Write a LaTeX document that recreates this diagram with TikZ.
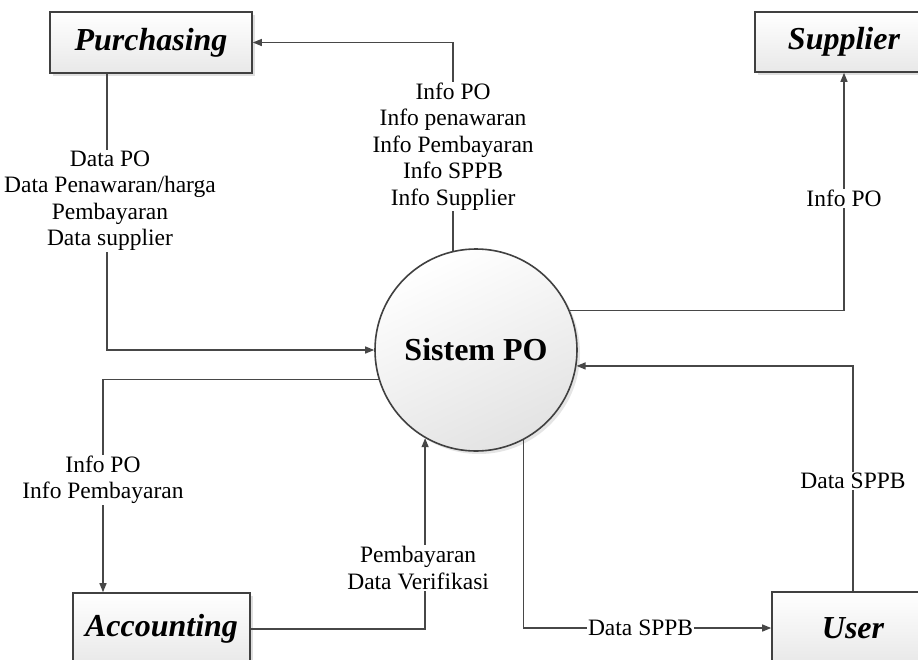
\documentclass[tikz,border=0pt]{standalone}
\usepackage{fontspec}
\setmainfont{Liberation Serif}
\usetikzlibrary{arrows.meta,shadows}
\definecolor{edge}{HTML}{404040}
\definecolor{flowc}{HTML}{474747}
\begin{document}
\begin{tikzpicture}[x=1pt,y=-1pt,
  entity/.style={draw=edge,line width=1.6pt,rectangle,top color=white,bottom color=gray!18,
    font=\fontsize{32}{36}\selectfont\bfseries\itshape,
    drop shadow={opacity=0.25,shadow xshift=3pt,shadow yshift=-3pt}},
  proc/.style={draw=edge,line width=1.6pt,circle,minimum size=202pt,inner sep=0pt,
    shading=axis,top color=white,bottom color=gray!22,shading angle=25,
    font=\fontsize{32}{36}\selectfont\bfseries,
    drop shadow={opacity=0.2,shadow xshift=3pt,shadow yshift=-3pt}},
  flow/.style={draw=flowc,line width=1.3pt,-{Triangle[length=9pt,width=7pt]}},
  lbl/.style={fill=white,inner sep=1pt,align=center,font=\fontsize{23.5}{26.5}\selectfont}]
\clip (0,0) rectangle (918,659);
\fill[white] (0,0) rectangle (918,659);
\node[entity,minimum width=202pt,minimum height=61pt] (purch) at (151,42.5) {Purchasing};
\node[entity,minimum width=178pt,minimum height=60pt] (supp) at (844,42) {Supplier};
\node[entity,minimum width=177pt,minimum height=72pt] (acc) at (161.5,629) {Accounting};
\node[entity,minimum width=162pt,minimum height=72pt] (user) at (853,628) {User};
\node[proc] (circ) at (476,350) {Sistem PO};

\draw[flow] (circ.103.7) |- (purch.east)
  node[lbl,pos=0.25] {Info PO\\Info penawaran\\Info Pembayaran\\Info SPPB\\Info Supplier};
\draw[flow] ([xshift=-44pt]purch.south) |- (circ.west)
  node[lbl,pos=0.23,xshift=3pt] {Data PO\\Data Penawaran/harga\\Pembayaran\\Data supplier};
\draw[flow] (circ.23.3) -| (supp.south)
  node[lbl,pos=0.735] {Info PO};
\draw[flow] (user.north) |- (circ.-9.7)
  node[lbl,pos=0.244] {Data SPPB};
\draw[flow] (circ.197.3) -| ([xshift=-58.5pt]acc.north)
  node[lbl,pos=0.735] {Info PO\\Info Pembayaran};
\draw[flow] (acc.east) -| (circ.-120.3)
  node[lbl,pos=0.66,xshift=-7pt] {Pembayaran\\Data Verifikasi};
\draw[flow] (circ.-62.9) |- (user.west)
  node[lbl,pos=0.736] {Data SPPB};
\end{tikzpicture}
\end{document}
